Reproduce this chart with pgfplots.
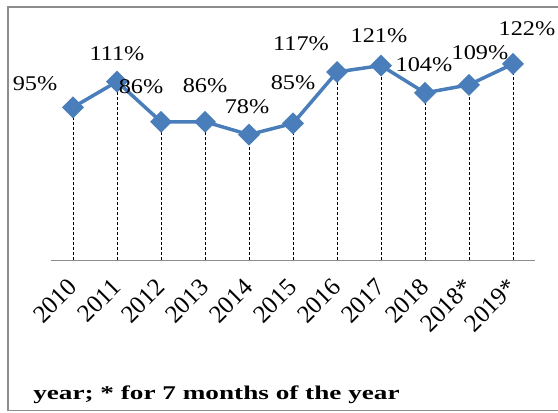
\documentclass[border=0pt]{standalone}
\usepackage{pgfplots}
\pgfplotsset{compat=1.18}
\usepackage{pgfplotstable}
\usepackage{fontspec}
\setmainfont{Liberation Serif}
\definecolor{lineblue}{HTML}{4A7EBB}
\definecolor{framegray}{HTML}{8C8C8C}
\pgfplotstableread{
x y dx dy
0 95 -38 24
1 111 0 28
2 86 -20 35
3 86 0 36
4 78 -2 28
5 85 0 41
6 117 -36 28
7 121 -2 30
8 104 -1 28
9 109 11 32
10 122 14 35
}\data
\begin{document}
\begin{tikzpicture}[x=1bp,y=1bp]
\useasboundingbox (0,0) rectangle (558,412);
\draw[framegray, line width=1.3bp] (565,405) -- (8,405) -- (8,1.5) -- (565,1.5);
\begin{axis}[
  at={(51bp,152bp)}, anchor=south west,
  scale only axis, width=484bp, height=225bp,
  xmin=-0.5, xmax=10.5, ymin=0, ymax=140,
  axis x line*=bottom,
  axis y line=none,
  x axis line style={-, draw=framegray, line width=0.8bp},
  xtick=data,
  xticklabels={2010,2011,2012,2013,2014,2015,2016,2017,2018,2018*,2019*},
  major tick length=0pt,
  xticklabel style={rotate=45, anchor=east, font=\fontsize{25}{29}\selectfont, xshift=3bp},
  xticklabel shift=23bp,
  ytick=\empty,
  clip=false,
  /pgf/number format/assume math mode=true,
]
\addplot[ycomb, black, line width=0.7bp, dash pattern=on 3bp off 2bp, no marks, forget plot] table[x=x,y=y] {\data};
\addplot[lineblue, line width=3.5bp, mark=square*, mark size=6bp,
  mark options={rotate=45, solid, fill=lineblue, draw=lineblue},
  nodes near coords={\pgfmathprintnumber{\pgfplotspointmeta}\%},
  point meta=explicit,
  visualization depends on={\thisrow{dx}\as\dx},
  visualization depends on={\thisrow{dy}\as\dy},
  every node near coord/.append style={anchor=center, xshift=\dx bp, yshift=\dy bp, black, font=\fontsize{21}{25}\selectfont, xscale=1.16, inner sep=0pt},
] table[x=x,y=y,meta=y] {\data};
\end{axis}
\node[anchor=base west, font=\bfseries\fontsize{19.5}{23}\selectfont, xscale=1.4, inner sep=0pt] at (33,13) {year; * for 7 months of the year};
\end{tikzpicture}
\end{document}
